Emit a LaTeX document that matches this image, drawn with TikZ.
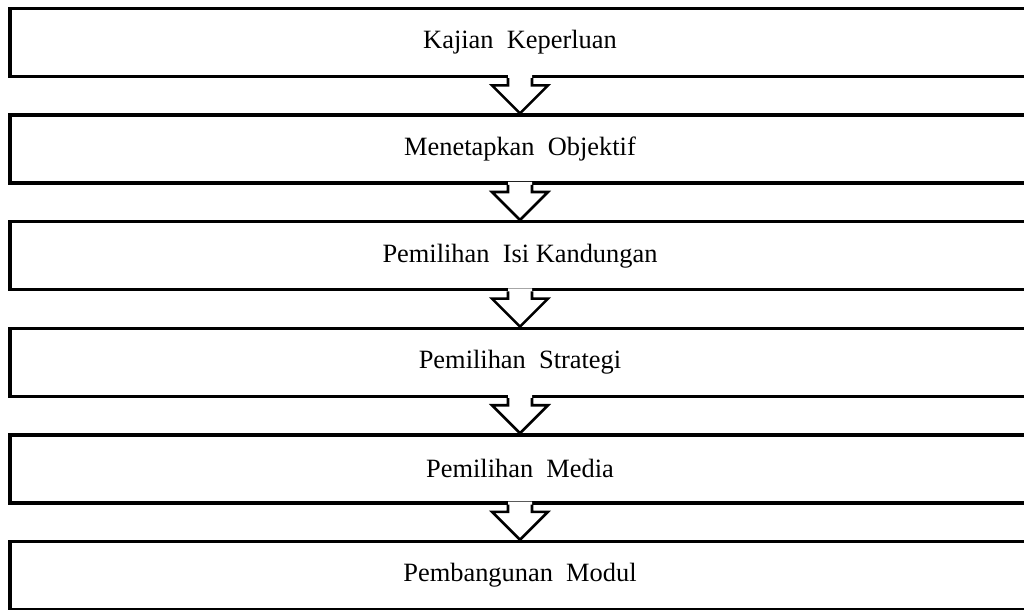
\documentclass[tikz,border=0pt]{standalone}
\usepackage{fontspec}
\setmainfont{Liberation Serif}
\usetikzlibrary{calc}

\begin{document}
\begin{tikzpicture}[x=.5pt,y=-.5pt,font=\fontsize{13.2}{16}\selectfont,
 kotak/.style={draw,line width=1.7pt,minimum width=510pt,minimum height=34pt,inner sep=0pt},
 panah/.style={line width=1.3pt,line join=miter}]
\useasboundingbox (0,0) rectangle (1024,610);
\node[kotak] (k1) at (520,42.5) {Kajian\ \ Keperluan};
\node[kotak] (k2) at (520,149.1) {Menetapkan\ \ Objektif};
\node[kotak] (k3) at (520,255.7) {Pemilihan\ \ Isi\ Kandungan};
\node[kotak] (k4) at (520,362.3) {Pemilihan\ \ Strategi};
\node[kotak] (k5) at (520,468.9) {Pemilihan\ \ Media};
\node[kotak] (k6) at (520,575.5) {Pembangunan\ \ Modul};
\foreach \a/\b in {k1/k2,k2/k3,k3/k4,k4/k5,k5/k6}{
 \fill[white] ($(\a.south)+(-12,-3)$) -- ($(\b.north)+(-12,-28)$) -- ($(\b.north)+(-28,-28)$)
  -- (\b.north) -- ($(\b.north)+(28,-28)$) -- ($(\b.north)+(12,-28)$) -- ($(\a.south)+(12,-3)$) -- cycle;
 \draw[panah] ($(\a.south)+(-12,0)$) -- ($(\b.north)+(-12,-28)$) -- ($(\b.north)+(-28,-28)$)
  -- (\b.north) -- ($(\b.north)+(28,-28)$) -- ($(\b.north)+(12,-28)$) -- ($(\a.south)+(12,0)$);
}
\end{tikzpicture}
\end{document}
